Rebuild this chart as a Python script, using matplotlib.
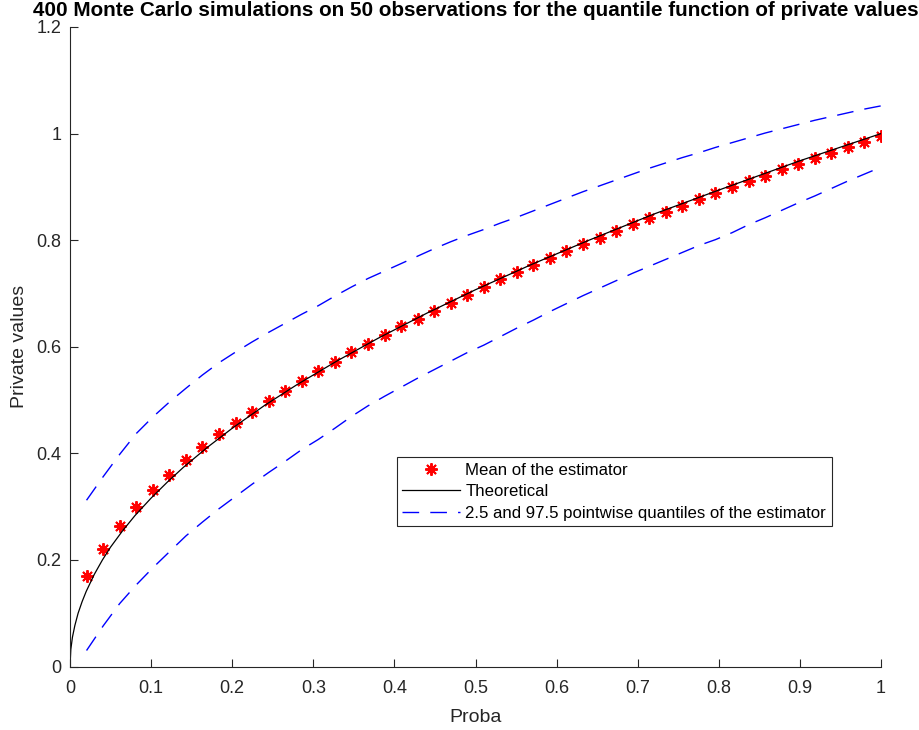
import matplotlib
matplotlib.use("Agg")
import matplotlib.pyplot as plt

plt.rcParams['font.family'] = ['Liberation Sans', 'DejaVu Sans']

# probability grid (k/49, k = 1..49)
proba = [0.0204, 0.0408, 0.0612, 0.0816, 0.1020, 0.1224, 0.1429, 0.1633, 0.1837, 0.2041,
         0.2245, 0.2449, 0.2653, 0.2857, 0.3061, 0.3265, 0.3469, 0.3673, 0.3878, 0.4082,
         0.4286, 0.4490, 0.4694, 0.4898, 0.5102, 0.5306, 0.5510, 0.5714, 0.5918, 0.6122,
         0.6327, 0.6531, 0.6735, 0.6939, 0.7143, 0.7347, 0.7551, 0.7755, 0.7959, 0.8163,
         0.8367, 0.8571, 0.8776, 0.8980, 0.9184, 0.9388, 0.9592, 0.9796, 1.0000]

mean_est = [0.170, 0.220, 0.264, 0.299, 0.331, 0.360, 0.388, 0.411, 0.436, 0.457,
            0.478, 0.498, 0.517, 0.535, 0.555, 0.572, 0.590, 0.606, 0.622, 0.638,
            0.653, 0.668, 0.683, 0.698, 0.713, 0.727, 0.740, 0.753, 0.767, 0.780,
            0.792, 0.805, 0.817, 0.830, 0.842, 0.853, 0.865, 0.877, 0.888, 0.899,
            0.911, 0.921, 0.933, 0.943, 0.954, 0.964, 0.974, 0.985, 0.995]

q_upper = [0.312, 0.356, 0.398, 0.437, 0.468, 0.496, 0.522, 0.547, 0.570, 0.590,
           0.609, 0.627, 0.644, 0.661, 0.677, 0.695, 0.712, 0.728, 0.742, 0.756,
           0.770, 0.784, 0.797, 0.809, 0.820, 0.832, 0.843, 0.855, 0.867, 0.879,
           0.891, 0.902, 0.913, 0.924, 0.935, 0.945, 0.955, 0.964, 0.974, 0.983,
           0.992, 1.001, 1.009, 1.017, 1.025, 1.032, 1.039, 1.046, 1.052]

q_lower = [0.030, 0.076, 0.118, 0.153, 0.185, 0.215, 0.245, 0.271, 0.296, 0.319,
           0.342, 0.364, 0.385, 0.407, 0.426, 0.447, 0.469, 0.489, 0.507, 0.524,
           0.541, 0.557, 0.573, 0.589, 0.603, 0.619, 0.635, 0.650, 0.666, 0.681,
           0.696, 0.710, 0.724, 0.738, 0.751, 0.764, 0.777, 0.790, 0.801, 0.814,
           0.829, 0.842, 0.856, 0.870, 0.883, 0.897, 0.911, 0.924, 0.937]

theo_x = [0, 0.001, 0.003, 0.006, 0.01, 0.015, 0.02, 0.03, 0.04, 0.05, 0.065, 0.08, 0.1,
          0.12, 0.14, 0.17, 0.2, 0.24, 0.28, 0.33, 0.38, 0.44, 0.5, 0.57, 0.64, 0.72,
          0.8, 0.9, 1.0]
theo_y = [0, 0.032, 0.055, 0.077, 0.100, 0.122, 0.141, 0.173, 0.200, 0.224, 0.255, 0.283,
          0.316, 0.346, 0.374, 0.412, 0.447, 0.490, 0.529, 0.574, 0.616, 0.663, 0.707,
          0.755, 0.800, 0.849, 0.894, 0.949, 1.000]

xticks = [0, 0.1, 0.2, 0.3, 0.4, 0.5, 0.6, 0.7, 0.8, 0.9, 1]
xtick_labels = ['0', '0.1', '0.2', '0.3', '0.4', '0.5', '0.6', '0.7', '0.8', '0.9', '1']
yticks = [0, 0.2, 0.4, 0.6, 0.8, 1.0, 1.2]
ytick_labels = ['0', '0.2', '0.4', '0.6', '0.8', '1', '1.2']

dark = '#262626'

fig = plt.figure(figsize=(9.19, 7.30), dpi=100)
ax = fig.add_axes([70 / 919, 63.5 / 730, 811 / 919, 639.5 / 730])

ax.plot(proba, mean_est, linestyle='none', marker=(8, 2, 0), markersize=9,
        markeredgewidth=1.4, color='red', label='Mean of the estimator')
ax.plot(theo_x, theo_y, color='black', linewidth=0.9, label='Theoretical')
ax.plot(proba, q_lower, color='blue', linewidth=1.0, dashes=(12, 8),
        label='2.5 and 97.5 pointwise quantiles of the estimator')
ax.plot(proba, q_upper, color='blue', linewidth=1.0, dashes=(12, 8))

ax.set_xlim(0, 1)
ax.set_ylim(0, 1.2)
ax.set_xticks(xticks)
ax.set_xticklabels(xtick_labels)
ax.set_yticks(yticks)
ax.set_yticklabels(ytick_labels)
ax.tick_params(direction='in', length=6, width=0.8, colors=dark, labelsize=13)
ax.tick_params(axis='x', pad=9.5)
ax.tick_params(axis='y', pad=6)
for side in ['top', 'right']:
    ax.spines[side].set_visible(False)
for side in ['left', 'bottom']:
    ax.spines[side].set_color(dark)
    ax.spines[side].set_linewidth(0.8)

ax.set_xlabel('Proba', fontsize=14, color=dark, labelpad=9)
ax.set_ylabel('Private values', fontsize=14, color=dark, labelpad=6)
ax.set_title('400 Monte Carlo simulations on 50 observations for the quantile function of private values',
             fontsize=14.85, fontweight='bold', color='black', pad=8)

leg = ax.legend(loc='upper left', bbox_to_anchor=(0.403, 0.3276), fontsize=12.1,
                numpoints=1, handlelength=3.4, handletextpad=0.35, borderpad=0.33,
                labelspacing=0.39, fancybox=False, framealpha=1, borderaxespad=0)
leg.get_frame().set_edgecolor(dark)
leg.get_frame().set_linewidth(0.8)
for t in leg.get_texts():
    t.set_color('black')

fig.savefig('out.png', dpi=100)
plt.close()
